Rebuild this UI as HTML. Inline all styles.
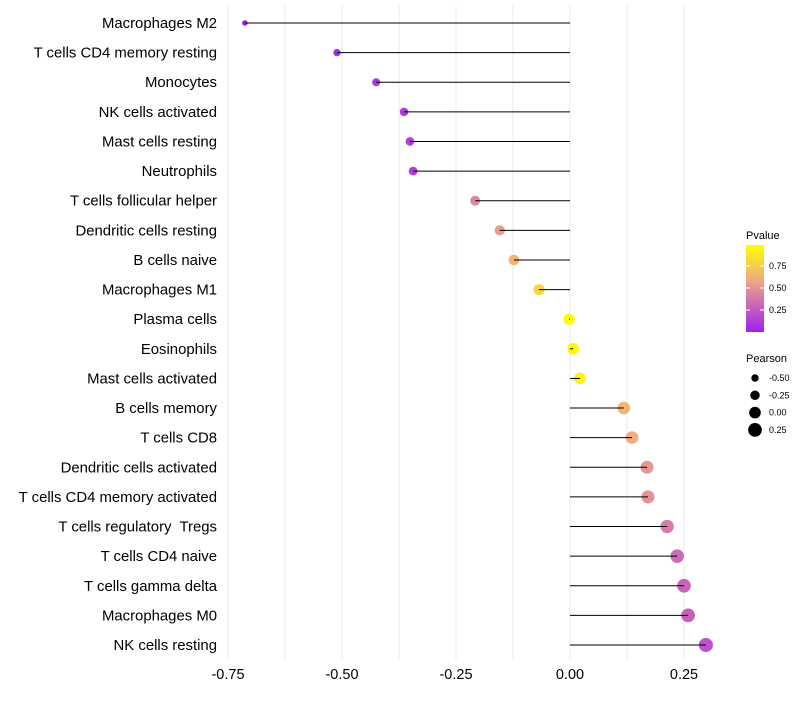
<!DOCTYPE html>
<html><head><meta charset="utf-8"><style>
body{margin:0;background:#fff;font-family:"Liberation Sans",sans-serif}
text{white-space:pre}
</style></head><body>
<svg id="c" width="800" height="700" xmlns="http://www.w3.org/2000/svg"></svg>
<script>
const categories=["Macrophages M2","T cells CD4 memory resting","Monocytes","NK cells activated","Mast cells resting","Neutrophils","T cells follicular helper","Dendritic cells resting","B cells naive","Macrophages M1","Plasma cells","Eosinophils","Mast cells activated","B cells memory","T cells CD8","Dendritic cells activated","T cells CD4 memory activated","T cells regulatory  Tregs","T cells CD4 naive","T cells gamma delta","Macrophages M0","NK cells resting"];
const pearson=[-0.713,-0.511,-0.425,-0.364,-0.351,-0.344,-0.208,-0.154,-0.123,-0.068,-0.002,0.007,0.022,0.118,0.136,0.169,0.171,0.213,0.235,0.25,0.259,0.298];
const pvalues=[0.02,0.05,0.1,0.12,0.13,0.13,0.45,0.55,0.65,0.8,0.99,0.97,0.94,0.65,0.62,0.52,0.5,0.4,0.33,0.3,0.28,0.22];
const xTicks=[-0.75,-0.5,-0.25,0,0.25];
const xTickLabels=["-0.75","-0.50","-0.25","0.00","0.25"];
const pTicks=[0.25,0.5,0.75];
const sizeLegend=[-0.5,-0.25,0,0.25];

const svg=document.getElementById('c');
const NS='http://www.w3.org/2000/svg';
const x=v=>570+v*456;
const y=i=>23+i*29.62;
const r=v=>Math.max(1.8,5.8+4.2*v);
function col(p){const a=[160,32,240],b=[240,170,130],c=[255,255,0];let t,u,w;
 if(p<0.6){t=p/0.6;u=a;w=b}else{t=(p-0.6)/0.4;u=b;w=c}
 return `rgb(${u.map((k,j)=>Math.round(k+(w[j]-k)*t)).join(',')})`;}
function mk(tag,at,txt){const e=document.createElementNS(NS,tag);for(const k in at)e.setAttribute(k,at[k]);if(txt!=null)e.textContent=txt;svg.appendChild(e);return e;}
for(let v=-0.75;v<=0.3;v+=0.125){const g=mk('line',{x1:x(v),x2:x(v),y1:5,y2:660,stroke:'#ebebeb','stroke-width':1});

}
xTicks.forEach((v,i)=>{const t=mk('text',{x:x(v),y:679,'font-size':14.5,'text-anchor':'middle',fill:'#000'},xTickLabels[i]);

});
categories.forEach((c,i)=>{
 const t=mk('text',{x:217,y:y(i)+5,'font-size':14.9,'text-anchor':'end',fill:'#000'},c);
 
 
 const d=mk('circle',{cx:x(pearson[i]),cy:y(i),r:r(pearson[i]),fill:col(pvalues[i])});
 
 
 const l=mk('line',{x1:x(0),x2:x(pearson[i]),y1:y(i),y2:y(i),stroke:'#000','stroke-width':1});
 
 
});
const defs=mk('defs',{});
const lg=document.createElementNS(NS,'linearGradient');lg.setAttribute('id','pg');lg.setAttribute('x1',0);lg.setAttribute('x2',0);lg.setAttribute('y1',1);lg.setAttribute('y2',0);defs.appendChild(lg);
for(let k=0;k<=10;k++){const s=document.createElementNS(NS,'stop');s.setAttribute('offset',k/10);s.setAttribute('stop-color',col(k/10));lg.appendChild(s);}
const tt=mk('text',{x:746,y:239,'font-size':11},'Pvalue');


const bar=mk('rect',{x:746,y:245,width:18,height:87,fill:'url(#pg)'});


const py=p=>332-p*88;
pTicks.forEach(p=>{mk('line',{x1:746,x2:750,y1:py(p),y2:py(p),stroke:'#fff'});mk('line',{x1:760,x2:764,y1:py(p),y2:py(p),stroke:'#fff'});
const t=mk('text',{x:769,y:py(p)+3,'font-size':9},p.toFixed(2));

});
const st=mk('text',{x:746,y:362,'font-size':11},'Pearson');


sizeLegend.forEach((v,i)=>{const cy=378+i*17.3;
const d=mk('circle',{cx:755,cy:cy,r:r(v),fill:'#000'});


const t=mk('text',{x:769,y:cy+3,'font-size':9},v.toFixed(2));

});
</script>
</body></html>
